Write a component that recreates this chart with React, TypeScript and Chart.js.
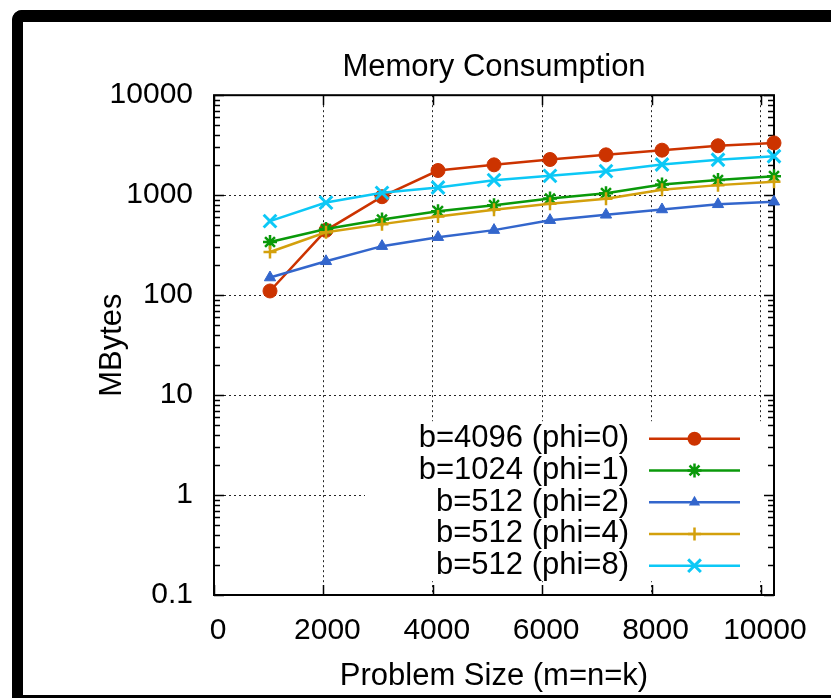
import React, { useEffect, useRef } from 'react';
import { Chart, registerables } from 'chart.js';

Chart.register(...registerables);

const problemSizes = [1024, 2048, 3072, 4096, 5120, 6144, 7168, 8192, 9216, 10240];
const seriesLabels = ['b=4096 (phi=0)', 'b=1024 (phi=1)', 'b=512 (phi=2)', 'b=512 (phi=4)', 'b=512 (phi=8)'];
const phi0 = [110, 445, 965, 1765, 2010, 2274, 2531, 2818, 3120, 3330];
const phi1 = [340, 458, 571, 692, 794, 926, 1047, 1278, 1415, 1550];
const phi2 = [150, 218, 309, 380, 447, 562, 636, 719, 810, 860];
const phi4 = [270, 425, 513, 612, 713, 819, 919, 1131, 1260, 1365];
const phi8 = [550, 843, 1055, 1193, 1413, 1561, 1738, 2027, 2260, 2450];
const seriesColors = ['#cc3300', '#0a990a', '#3366cc', '#d3a00c', '#0cc8f6'];
const seriesMarkers = ['circle', 'star', 'triangle', 'cross', 'crossRot'];
const yTicks = [0.1, 1, 10, 100, 1000, 10000];
const xTicks = [0, 2000, 4000, 6000, 8000, 10000];

const FONT = "'Liberation Sans', Arial, Helvetica, sans-serif";

const markerRadius: Record<string, number> = { circle: 7, star: 7, triangle: 6.5, cross: 6.5, crossRot: 9 };
const markerBorder: Record<string, number> = { circle: 1, star: 2.5, triangle: 1, cross: 2.5, crossRot: 3 };

function drawMarker(ctx: CanvasRenderingContext2D, style: string, x: number, y: number, r: number, color: string, bw: number) {
  ctx.save();
  ctx.fillStyle = color;
  ctx.strokeStyle = color;
  ctx.lineWidth = bw;
  ctx.beginPath();
  const d = r * Math.SQRT1_2;
  if (style === 'circle') {
    ctx.arc(x, y, r, 0, Math.PI * 2);
    ctx.fill();
  } else if (style === 'triangle') {
    let rad = 0;
    ctx.moveTo(x + Math.sin(rad) * r, y - Math.cos(rad) * r);
    rad += (2 * Math.PI) / 3;
    ctx.lineTo(x + Math.sin(rad) * r, y - Math.cos(rad) * r);
    rad += (2 * Math.PI) / 3;
    ctx.lineTo(x + Math.sin(rad) * r, y - Math.cos(rad) * r);
    ctx.closePath();
    ctx.fill();
  } else {
    if (style === 'cross' || style === 'star') {
      ctx.moveTo(x, y - r); ctx.lineTo(x, y + r);
      ctx.moveTo(x - r, y); ctx.lineTo(x + r, y);
    }
    if (style === 'crossRot' || style === 'star') {
      ctx.moveTo(x - d, y - d); ctx.lineTo(x + d, y + d);
      ctx.moveTo(x + d, y - d); ctx.lineTo(x - d, y + d);
    }
    ctx.stroke();
  }
  ctx.restore();
}

const decorPlugin = {
  id: 'gnuplotDecor',
  beforeDatasetsDraw(chart: any) {
    const { ctx, chartArea: a, scales } = chart;
    const ys = scales.y;
    const xs = scales.x;
    ctx.save();
    // opaque key box
    const kLeft = a.left + 151;
    const kTop = a.top + 326;
    ctx.fillStyle = '#ffffff';
    ctx.fillRect(kLeft, kTop, 400, 160);
    // border
    ctx.strokeStyle = '#000';
    ctx.lineWidth = 2;
    ctx.strokeRect(a.left, a.top, a.right - a.left, a.bottom - a.top);
    // ticks
    ctx.lineWidth = 1.5;
    ctx.beginPath();
    for (let i = 0; i < yTicks.length; i++) {
      const v = yTicks[i];
      const py = Math.round(ys.getPixelForValue(v)) + 0.5;
      ctx.moveTo(a.left, py); ctx.lineTo(a.left + 10, py);
      ctx.moveTo(a.right, py); ctx.lineTo(a.right - 10, py);
      if (i < yTicks.length - 1) {
        for (let m = 2; m <= 9; m++) {
          const pm = Math.round(ys.getPixelForValue(v * m)) + 0.5;
          ctx.moveTo(a.left, pm); ctx.lineTo(a.left + 6, pm);
          ctx.moveTo(a.right, pm); ctx.lineTo(a.right - 6, pm);
        }
      }
    }
    for (const v of xTicks) {
      const px = Math.round(xs.getPixelForValue(v)) + 0.5;
      ctx.moveTo(px, a.bottom); ctx.lineTo(px, a.bottom - 10);
      ctx.moveTo(px, a.top); ctx.lineTo(px, a.top + 10);
    }
    ctx.stroke();
    // key entries
    ctx.font = `31px ${FONT}`;
    ctx.textAlign = 'right';
    ctx.textBaseline = 'middle';
    for (let i = 0; i < seriesLabels.length; i++) {
      const ry = kTop + 17.5 + i * 31.75;
      ctx.fillStyle = '#000';
      ctx.fillText(seriesLabels[i], kLeft + 264, ry);
      ctx.strokeStyle = seriesColors[i];
      ctx.lineWidth = 2.5;
      ctx.beginPath();
      ctx.moveTo(kLeft + 284, ry);
      ctx.lineTo(kLeft + 375, ry);
      ctx.stroke();
      const st = seriesMarkers[i];
      drawMarker(ctx, st, kLeft + 329.5, ry, markerRadius[st], seriesColors[i], markerBorder[st]);
    }
    ctx.restore();
  },
};

const seriesValues = [phi0, phi1, phi2, phi4, phi8];

export default function App() {
  const ref = useRef<HTMLCanvasElement>(null);
  useEffect(() => {
    const tickFont = { family: FONT, size: 30, weight: 'normal' as const };
    const textFont = { family: FONT, size: 31, weight: 'normal' as const };
    const chart = new Chart(ref.current!, {
      type: 'line',
      data: {
        datasets: seriesLabels.map((label, i) => ({
          label,
          data: problemSizes.map((x, j) => ({ x, y: seriesValues[i][j] })),
          borderColor: seriesColors[i],
          backgroundColor: seriesColors[i],
          borderWidth: 2.5,
          pointStyle: seriesMarkers[i] as any,
          pointRadius: markerRadius[seriesMarkers[i]],
          pointBorderWidth: markerBorder[seriesMarkers[i]],
          pointBackgroundColor: seriesColors[i],
          pointBorderColor: seriesColors[i],
          tension: 0,
          clip: false as any,
          order: 5 - i,
        })),
      },
      plugins: [decorPlugin],
      options: {
        animation: false,
        responsive: false,
        maintainAspectRatio: false,
        layout: { padding: { left: 0, right: 57, top: 0, bottom: 0 } },
        plugins: {
          legend: { display: false },
          tooltip: { enabled: false },
          title: {
            display: true,
            text: 'Memory Consumption',
            fullSize: false,
            color: '#000',
            font: textFont,
            padding: { top: 49, bottom: 9 },
          },
        },
        scales: {
          x: {
            type: 'linear',
            min: 0,
            max: 10240,
            afterBuildTicks: (s: any) => { s.ticks = xTicks.map((v) => ({ value: v })); },
            afterFit: (s: any) => { s.height = 103; },
            grid: { color: '#222', lineWidth: 1, drawTicks: false },
            border: { display: false, dash: [2, 3] },
            ticks: {
              padding: 18,
              labelOffset: 4,
              color: '#000',
              font: tickFont,
              maxRotation: 0,
              autoSkip: false,
              callback: (v: any) => String(v),
            },
            title: {
              display: true,
              text: 'Problem Size (m=n=k)',
              color: '#000',
              font: textFont,
              padding: { top: 0, bottom: 3 },
            },
          },
          y: {
            type: 'logarithmic',
            min: 0.1,
            max: 10000,
            afterBuildTicks: (s: any) => { s.ticks = yTicks.map((v) => ({ value: v })); },
            afterFit: (s: any) => { s.width = 214; },
            grid: { color: '#222', lineWidth: 1, drawTicks: false },
            border: { display: false, dash: [2, 3] },
            ticks: {
              padding: 21,
              color: '#000',
              font: tickFont,
              autoSkip: false,
              callback: (v: any) => String(v),
            },
            title: {
              display: true,
              text: 'MBytes',
              color: '#000',
              font: textFont,
              padding: { top: 94, bottom: 0 },
            },
          },
        },
      },
    });
    return () => chart.destroy();
  }, []);

  return (
    <div style={{ position: 'absolute', left: 0, top: 0, width: 831, height: 698, overflow: 'hidden', background: '#fff' }}>
      <div
        style={{
          position: 'absolute',
          left: 12,
          top: 10,
          width: 900,
          height: 695,
          boxSizing: 'border-box',
          borderStyle: 'solid',
          borderColor: '#000',
          borderWidth: '12px 0 10px 11px',
          borderTopLeftRadius: 10,
          background: '#fff',
        }}
      />
      <canvas ref={ref} width={831} height={698} style={{ position: 'absolute', left: 0, top: 0, width: 831, height: 698, display: 'block' }} />
    </div>
  );
}
